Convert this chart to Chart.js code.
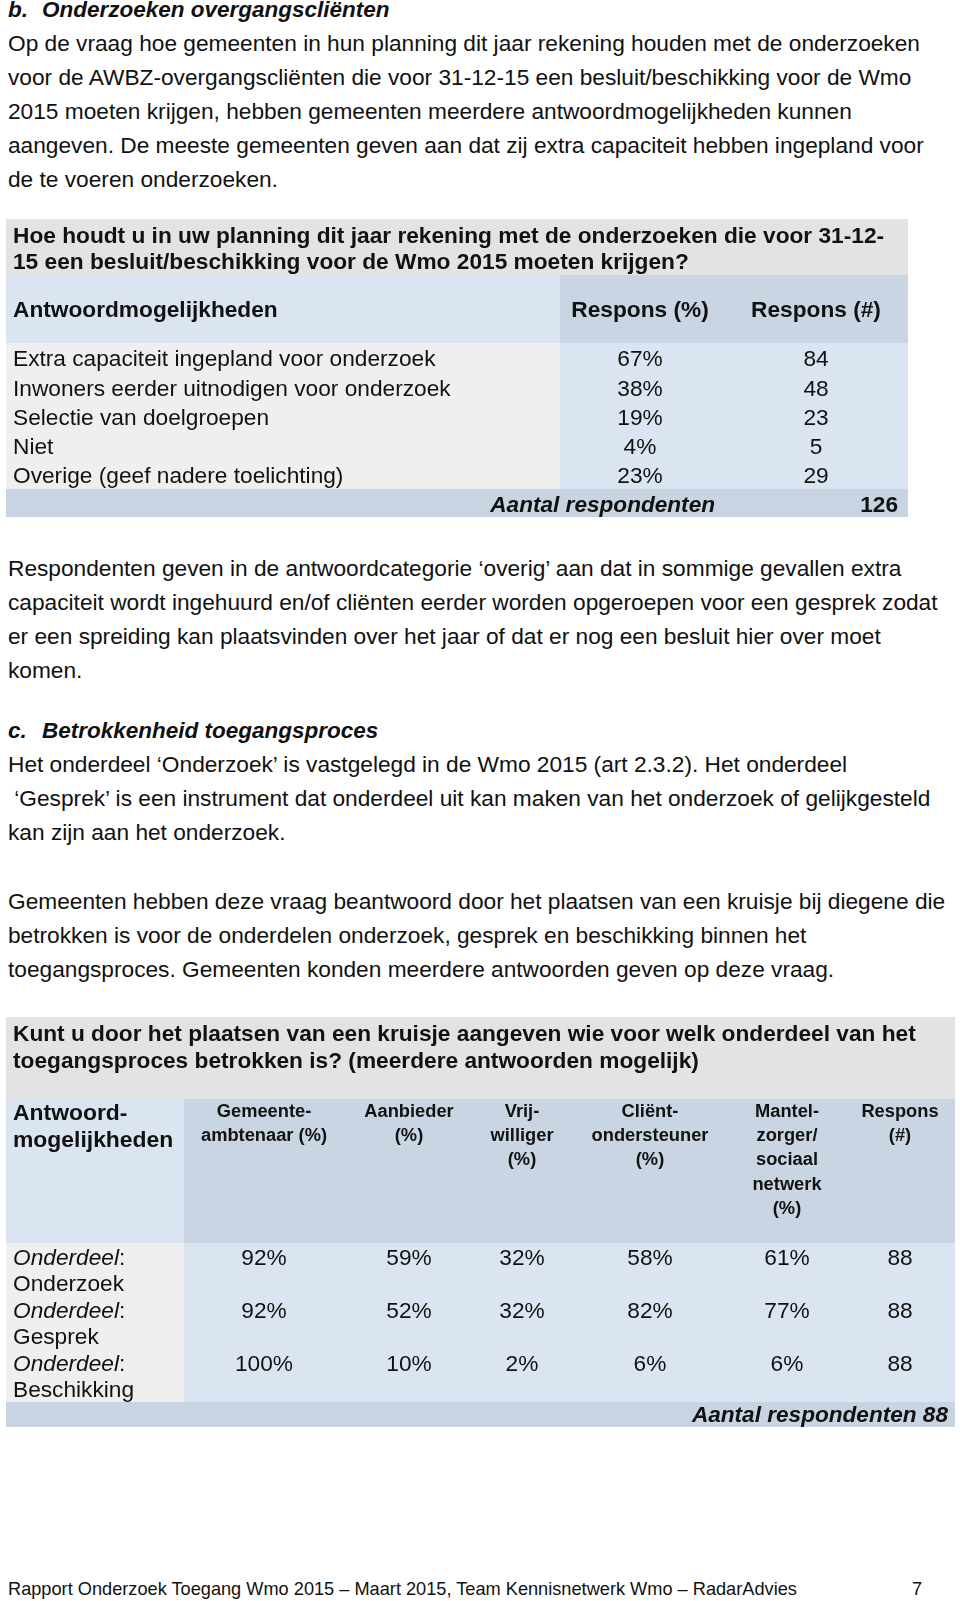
<!DOCTYPE html>
<html>
<head>
<meta charset="utf-8">
<script src="https://cdn.jsdelivr.net/npm/chart.js@4.4.1/dist/chart.umd.min.js"></script>
<style>
  body { margin: 0; background: #fff; width: 960px; height: 1601px; position: relative; overflow: hidden;
         font-family: "Liberation Sans", Arial, Helvetica, sans-serif; color: #111; }
  .blk { position: absolute; left: 8px; white-space: nowrap; line-height: 34px; }
  .kop { font-weight: bold; font-style: italic; }
  .kop span { position: absolute; left: 34px; }
  .tabel { position: absolute; left: 0; }
  #voet { top: 1572px; }
  #pagina { position: absolute; left: 912px; top: 1572px; line-height: 34px; }
</style>
</head>
<body>

<div class="blk kop" id="kopB" style="top:-7px">b.<span>Onderzoeken overgangscliënten</span></div>
<div class="blk tekst" style="top:26px">
Op de vraag hoe gemeenten in hun planning dit jaar rekening houden met de onderzoeken<br>
voor de AWBZ-overgangscliënten die voor 31-12-15 een besluit/beschikking voor de Wmo<br>
2015 moeten krijgen, hebben gemeenten meerdere antwoordmogelijkheden kunnen<br>
aangeven. De meeste gemeenten geven aan dat zij extra capaciteit hebben ingepland voor<br>
de te voeren onderzoeken.
</div>

<canvas class="tabel" id="tabel1" width="960" height="298" style="top:219px"></canvas>

<div class="blk tekst" style="top:551px">
Respondenten geven in de antwoordcategorie ‘overig’ aan dat in sommige gevallen extra<br>
capaciteit wordt ingehuurd en/of cliënten eerder worden opgeroepen voor een gesprek zodat<br>
er een spreiding kan plaatsvinden over het jaar of dat er nog een besluit hier over moet<br>
komen.
</div>

<div class="blk kop" id="kopC" style="top:714px">c.<span>Betrokkenheid toegangsproces</span></div>
<div class="blk tekst" style="top:747px">
Het onderdeel ‘Onderzoek’ is vastgelegd in de Wmo 2015 (art 2.3.2). Het onderdeel<br>
&nbsp;‘Gesprek’ is een instrument dat onderdeel uit kan maken van het onderzoek of gelijkgesteld<br>
kan zijn aan het onderzoek.
</div>

<div class="blk tekst" style="top:884px">
Gemeenten hebben deze vraag beantwoord door het plaatsen van een kruisje bij diegene die<br>
betrokken is voor de onderdelen onderzoek, gesprek en beschikking binnen het<br>
toegangsproces. Gemeenten konden meerdere antwoorden geven op deze vraag.
</div>

<canvas class="tabel" id="tabel2" width="960" height="410" style="top:1017px"></canvas>

<div class="blk" id="voet">Rapport Onderzoek Toegang Wmo 2015 – Maart 2015, Team Kennisnetwerk Wmo – RadarAdvies</div>
<div id="pagina">7</div>

<script>
// tabel 1: planning onderzoeken
const answers1 = [
  'Extra capaciteit ingepland voor onderzoek',
  'Inwoners eerder uitnodigen voor onderzoek',
  'Selectie van doelgroepen',
  'Niet',
  'Overige (geef nadere toelichting)'
];
const pct1 = [67, 38, 19, 4, 23];
const count1 = [84, 48, 23, 5, 29];
const total1 = 126;

// tabel 2: betrokkenheid per onderdeel
const parts2 = ['Onderzoek', 'Gesprek', 'Beschikking'];
const gemeenteambtenaar = [92, 92, 100];
const aanbieder = [59, 52, 10];
const vrijwilliger = [32, 32, 2];
const clientondersteuner = [58, 82, 6];
const mantelzorger = [61, 77, 6];
const respons2 = [88, 88, 88];
const total2 = 88;

const pageFont = '"Liberation Sans", Arial, Helvetica, sans-serif';
const ink = '#111';
const colors = {
  title: '#e3e3e3',
  headLabel: '#dbe5f1',
  headValue: '#c9d5e3',
  bodyLabel: '#efefef',
  bodyValue: '#dbe5f1',
  foot: '#c8d4e2'
};

// font sizes taken from the width of a line in the scan
const measure = document.createElement('canvas').getContext('2d');
function fit(text, style, width) {
  measure.font = style + ' 100px ' + pageFont;
  return Math.round(1000 * width / measure.measureText(text).width) / 10;
}
const textSize = fit('Op de vraag hoe gemeenten in hun planning dit jaar rekening houden met de onderzoeken', '', 911);
const kopSize = fit('Onderzoeken overgangscliënten', 'italic bold', 348);
const footSize = fit('Rapport Onderzoek Toegang Wmo 2015 – Maart 2015, Team Kennisnetwerk Wmo – RadarAdvies', '', 792);

document.querySelectorAll('.tekst').forEach(el => el.style.fontSize = textSize + 'px');
document.querySelectorAll('.kop').forEach(el => el.style.fontSize = kopSize + 'px');
document.getElementById('voet').style.fontSize = footSize + 'px';
document.getElementById('pagina').style.fontSize = footSize + 'px';

function tablePlugin(t) {
  return {
    id: 'tabel',
    beforeDatasetsDraw(chart) {
      const {ctx, chartArea: a, scales: {x}} = chart;
      const L = x.getPixelForValue(t.left), S = x.getPixelForValue(t.split), R = x.getPixelForValue(t.right);
      const box = (c, x0, y0, x1, y1) => { ctx.fillStyle = c; ctx.fillRect(x0, y0, x1 - x0, y1 - y0); };
      ctx.save();
      box(colors.title, L, 0, R, t.titleH);
      box(colors.headLabel, L, t.titleH, S, a.top);
      box(colors.headValue, S, t.titleH, R, a.top);
      box(colors.bodyLabel, L, a.top, S, a.bottom);
      box(colors.bodyValue, S, a.top, R, a.bottom);
      box(colors.foot, L, a.bottom, R, chart.height);
      ctx.restore();
    },
    afterDatasetsDraw(chart) {
      const {ctx, chartArea: a, scales: {x, y}} = chart;
      const L = x.getPixelForValue(t.left);
      const write = (s, px, py, style, size, align) => {
        ctx.font = style + ' ' + size + 'px ' + pageFont;
        ctx.textAlign = align;
        ctx.fillText(s, px, py + 1.5);
        return ctx.measureText(s).width;
      };
      ctx.save();
      ctx.fillStyle = ink;
      ctx.textBaseline = 'middle';

      t.title.forEach((s, i) => write(s, L + 7, t.titleY[i], 'bold', t.titleSize, 'left'));
      t.headLabel.forEach((s, i) => write(s, L + 7, t.headLabelY[i], 'bold', t.headLabelSize, 'left'));
      t.columns.forEach(c => {
        c.head.forEach((s, i) => write(s, x.getPixelForValue(c.center), t.headY[i], 'bold', t.headSize, 'center'));
      });

      t.rows.forEach((r, i) => {
        const py = y.getPixelForValue(i);
        if (t.rowPrefix) {
          const w = write(t.rowPrefix, L + 7, py + t.lineDy[0], 'italic', t.cellSize, 'left');
          write(':', L + 7 + w, py + t.lineDy[0], '', t.cellSize, 'left');
          write(r, L + 7, py + t.lineDy[1], '', t.cellSize, 'left');
        } else {
          write(r, L + 7, py + t.lineDy[0], '', t.cellSize, 'left');
        }
      });

      chart.data.datasets.forEach((ds, d) => {
        chart.getDatasetMeta(d).data.forEach((pt, i) => {
          write(ds.values[i] + ds.suffix, pt.x, pt.y + t.lineDy[0], '', t.cellSize, 'center');
        });
      });

      const fy = (a.bottom + chart.height) / 2 + t.footDy;
      t.foot.forEach(f => write(f.text, x.getPixelForValue(f.end), fy, f.style, t.footSize, 'right'));
      ctx.restore();
    }
  };
}

function makeTable(id, t) {
  new Chart(document.getElementById(id), {
    type: 'scatter',
    data: {
      labels: t.rows,
      datasets: t.columns.map(c => ({
        label: c.head.join(' '),
        data: c.values.map((v, i) => ({x: c.center, y: i})),
        values: c.values,
        suffix: c.suffix,
        pointRadius: 0
      }))
    },
    options: {
      responsive: false,
      animation: false,
      events: [],
      layout: {padding: {top: t.bodyTop, bottom: t.footH, left: 0, right: 0}},
      scales: {
        x: {type: 'linear', min: 0, max: 960, display: false},
        y: {type: 'category', offset: true, display: false}
      },
      plugins: {legend: {display: false}, tooltip: {enabled: false}}
    },
    plugins: [tablePlugin(t)]
  });
}

makeTable('tabel1', {
  left: 6, split: 560, right: 908,
  titleH: 56, bodyTop: 124, footH: 28,
  title: ['Hoe houdt u in uw planning dit jaar rekening met de onderzoeken die voor 31-12-',
          '15 een besluit/beschikking voor de Wmo 2015 moeten krijgen?'],
  titleY: [16.5, 42],
  titleSize: fit('Hoe houdt u in uw planning dit jaar rekening met de onderzoeken die voor 31-12-', 'bold', 872),
  headLabel: ['Antwoordmogelijkheden'],
  headLabelY: [90.5],
  headLabelSize: fit('Antwoordmogelijkheden', 'bold', 265),
  headY: [90.5],
  headSize: fit('Antwoordmogelijkheden', 'bold', 265),
  rows: answers1,
  lineDy: [1],
  cellSize: fit('Extra capaciteit ingepland voor onderzoek', '', 423),
  columns: [
    {head: ['Respons (%)'], center: 640, values: pct1, suffix: '%'},
    {head: ['Respons (#)'], center: 816, values: count1, suffix: ''}
  ],
  foot: [
    {text: 'Aantal respondenten', end: 715, style: 'italic bold'},
    {text: String(total1), end: 898, style: 'bold'}
  ],
  footDy: 1.5,
  footSize: fit('Aantal respondenten', 'italic bold', 225)
});

makeTable('tabel2', {
  left: 6, split: 184, right: 955,
  titleH: 82, bodyTop: 226, footH: 25,
  title: ['Kunt u door het plaatsen van een kruisje aangeven wie voor welk onderdeel van het',
          'toegangsproces betrokken is? (meerdere antwoorden mogelijk)'],
  titleY: [16, 43],
  titleSize: fit('Kunt u door het plaatsen van een kruisje aangeven wie voor welk onderdeel van het', 'bold', 903),
  headLabel: ['Antwoord-', 'mogelijkheden'],
  headLabelY: [95, 122],
  headLabelSize: fit('mogelijkheden', 'bold', 160),
  headY: [93, 117.5, 141.5, 166, 190],
  headSize: fit('ambtenaar (%)', 'bold', 126),
  rows: parts2,
  rowPrefix: 'Onderdeel',
  lineDy: [-12.5, 13.5],
  cellSize: fit('Beschikking', '', 121),
  columns: [
    {head: ['Gemeente-', 'ambtenaar (%)'], center: 264, values: gemeenteambtenaar, suffix: '%'},
    {head: ['Aanbieder', '(%)'], center: 409, values: aanbieder, suffix: '%'},
    {head: ['Vrij-', 'williger', '(%)'], center: 522, values: vrijwilliger, suffix: '%'},
    {head: ['Cliënt-', 'ondersteuner', '(%)'], center: 650, values: clientondersteuner, suffix: '%'},
    {head: ['Mantel-', 'zorger/', 'sociaal', 'netwerk', '(%)'], center: 787, values: mantelzorger, suffix: '%'},
    {head: ['Respons', '(#)'], center: 900, values: respons2, suffix: ''}
  ],
  foot: [
    {text: 'Aantal respondenten ' + total2, end: 948, style: 'italic bold'}
  ],
  footDy: 0,
  footSize: fit('Aantal respondenten 88', 'italic bold', 256)
});
</script>
</body>
</html>
